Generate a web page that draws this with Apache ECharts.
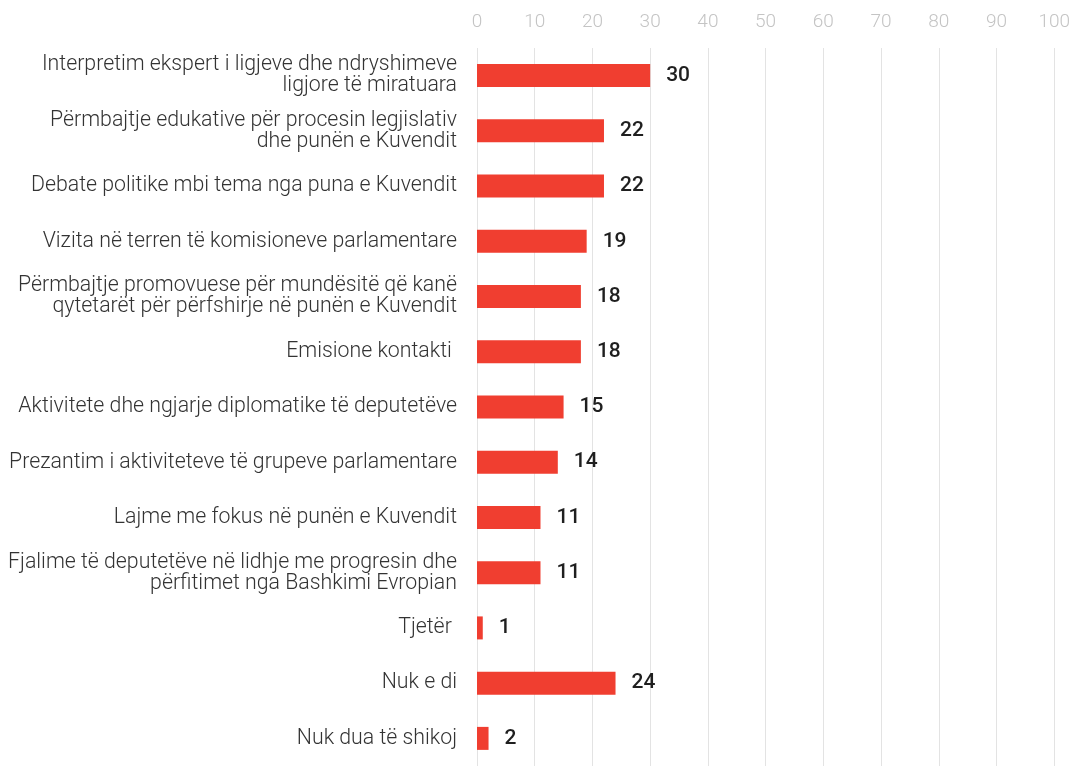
<!DOCTYPE html>
<html><head><meta charset="utf-8">
<script src="https://cdn.jsdelivr.net/npm/echarts@6/dist/echarts.min.js"></script>
<style>html,body{margin:0;padding:0;background:#fff}#c{width:1073px;height:766px}</style>
</head><body><div id="c"></div>
<script>
const categories = [
  "Interpretim ekspert i ligjeve dhe ndryshimeve\nligjore të miratuara",
  "Përmbajtje edukative për procesin legjislativ\ndhe punën e Kuvendit",
  "Debate politike mbi tema nga puna e Kuvendit",
  "Vizita në terren të komisioneve parlamentare",
  "Përmbajtje promovuese për mundësitë që kanë\nqytetarët për përfshirje në punën e Kuvendit",
  "Emisione kontakti ",
  "Aktivitete dhe ngjarje diplomatike të deputetëve",
  "Prezantim i aktiviteteve të grupeve parlamentare",
  "Lajme me fokus në punën e Kuvendit",
  "Fjalime të deputetëve në lidhje me progresin dhe\npërfitimet nga Bashkimi Evropian",
  "Tjetër ",
  "Nuk e di",
  "Nuk dua të shikoj"
];
const values = [30, 22, 22, 19, 18, 18, 15, 14, 11, 11, 1, 24, 2];
const tickValues = [0, 10, 20, 30, 40, 50, 60, 70, 80, 90, 100];

const chart = echarts.init(document.getElementById('c'));
chart.setOption({
  animation: false,
  grid: { left: 477, right: 16, top: 48, bottom: -3, containLabel: false },
  xAxis: {
    type: 'value', position: 'top', min: tickValues[0], max: tickValues[tickValues.length - 1], interval: 10,
    axisLine: { show: false }, axisTick: { show: false },
    axisLabel: { color: '#c4c4c4', fontFamily: 'Roboto', fontWeight: 300, fontSize: 19, margin: 16 },
    splitLine: { lineStyle: { color: '#e3e3e3', width: 1 } }
  },
  yAxis: {
    type: 'category', inverse: true, data: categories,
    axisLine: { show: false }, axisTick: { show: false },
    axisLabel: { color: '#333', fontFamily: 'Roboto', fontWeight: 300, fontSize: 21.3, lineHeight: 21, margin: 20, align: 'right' }
  },
  series: [{
    type: 'bar', data: values, barWidth: 23,
    itemStyle: { color: '#F03E30' },
    label: { show: true, position: 'right', distance: 16, color: '#1f1f1f', fontFamily: 'Roboto', fontWeight: 500, fontSize: 21 }
  }]
});
</script></body></html>
